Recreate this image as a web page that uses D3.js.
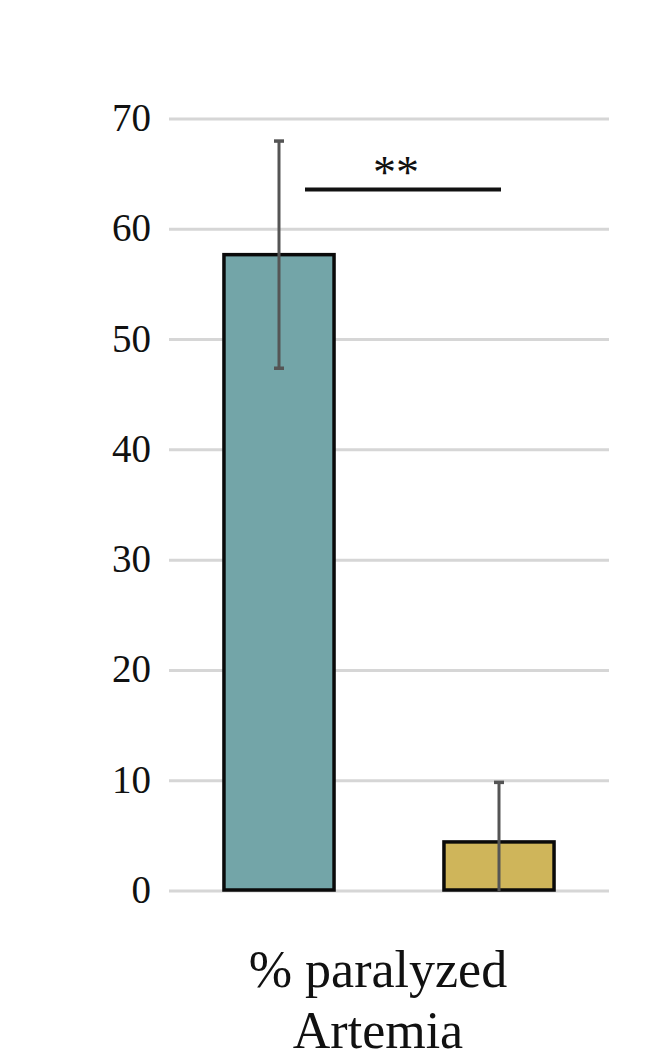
<!DOCTYPE html>
<html>
<head>
<meta charset="utf-8">
<script src="https://cdn.jsdelivr.net/npm/d3@7"></script>
<style>
  body { margin: 0; background: #fff; }
  svg text { font-family: "Liberation Serif", "Times New Roman", serif; fill: #111; }
</style>
</head>
<body>
<div id="chart"></div>
<script>
// Data
const groups = ['A', 'B'];
const values = [57.7, 4.45];
const errors = [10.3, 5.4];
const barColors = ['#73a5a8', '#cfb55a'];
const yTicks = [0, 10, 20, 30, 40, 50, 60, 70];
const axisLabel = ['% paralyzed', 'Artemia'];
const sigLabel = '**';
const sigLevel = 63.6;

const config = { width: 671, height: 1058, left: 169, right: 609, top: 119, bottom: 891 };

const svg = d3.select('#chart')
    .append('svg')
    .attr('width', config.width)
    .attr('height', config.height);

const x = d3.scaleBand()
    .domain(groups)
    .range([config.left, config.right])
    .paddingInner(0.486)
    .paddingOuter(0.243);

const y = d3.scaleLinear()
    .domain([0, 70])
    .range([config.bottom, config.top]);

// Gridlines
svg.selectAll('.grid')
    .data(yTicks)
    .join('line')
    .attr('class', 'grid')
    .attr('x1', config.left)
    .attr('x2', config.right)
    .attr('y1', d => y(d))
    .attr('y2', d => y(d))
    .attr('stroke', '#d6d6d6')
    .attr('stroke-width', 3);

// Tick labels
svg.selectAll('.tick-label')
    .data(yTicks)
    .join('text')
    .attr('class', 'tick-label')
    .attr('x', 151)
    .attr('y', d => y(d) + 12)
    .attr('text-anchor', 'end')
    .attr('font-size', 39)
    .text(d => d);

// Bars
svg.selectAll('.bar')
    .data(values)
    .join('rect')
    .attr('class', 'bar')
    .attr('x', (d, i) => x(groups[i]) + 1.5)
    .attr('width', x.bandwidth() - 3)
    .attr('y', d => y(d))
    .attr('height', d => y(0) - y(d) - 1)
    .attr('fill', (d, i) => barColors[i])
    .attr('stroke', '#0a0a0a')
    .attr('stroke-width', 3.5);

// Error bars
const errData = values.map((v, i) => ({
    cx: x(groups[i]) + x.bandwidth() / 2,
    hi: v + errors[i],
    lo: Math.max(0, v - errors[i])
}));

svg.selectAll('.err')
    .data(errData)
    .join('line')
    .attr('class', 'err')
    .attr('x1', d => d.cx)
    .attr('x2', d => d.cx)
    .attr('y1', d => y(d.hi))
    .attr('y2', d => y(d.lo))
    .attr('stroke', '#555')
    .attr('stroke-width', 3);

const caps = [];
errData.forEach(d => {
    caps.push({ cx: d.cx, v: d.hi });
    if (d.lo > 0) caps.push({ cx: d.cx, v: d.lo });
});

svg.selectAll('.cap')
    .data(caps)
    .join('line')
    .attr('class', 'cap')
    .attr('x1', d => d.cx - 5)
    .attr('x2', d => d.cx + 5)
    .attr('y1', d => y(d.v))
    .attr('y2', d => y(d.v))
    .attr('stroke', '#555')
    .attr('stroke-width', 3.5);

// Significance bar
const sx1 = x(groups[0]) + x.bandwidth() / 2 + 26;
const sx2 = x(groups[1]) + x.bandwidth() / 2 + 2;
svg.append('line')
    .attr('x1', sx1)
    .attr('x2', sx2)
    .attr('y1', y(sigLevel))
    .attr('y2', y(sigLevel))
    .attr('stroke', '#111')
    .attr('stroke-width', 4);

svg.append('text')
    .attr('x', (sx1 + sx2) / 2 - 7)
    .attr('y', y(sigLevel) - 2)
    .attr('text-anchor', 'middle')
    .attr('font-size', 46)
    .text(sigLabel);

// Axis label
svg.selectAll('.axis-label')
    .data(axisLabel)
    .join('text')
    .attr('class', 'axis-label')
    .attr('x', 378)
    .attr('y', (d, i) => 987 + i * 61)
    .attr('text-anchor', 'middle')
    .attr('font-size', 52)
    .text(d => d);
</script>
</body>
</html>
